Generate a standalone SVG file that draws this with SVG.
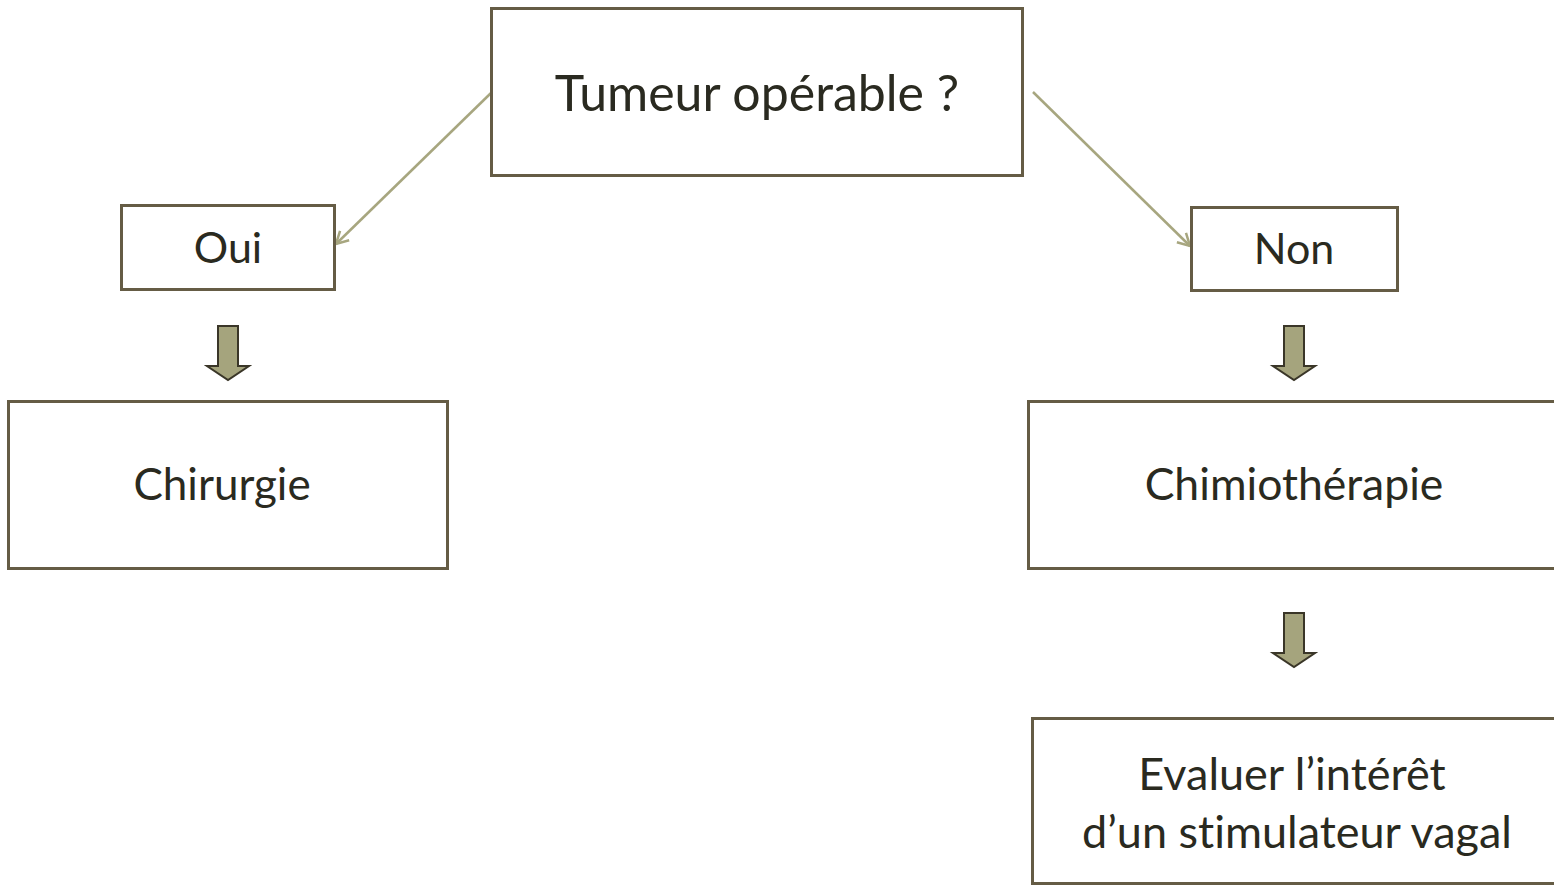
<svg xmlns="http://www.w3.org/2000/svg" width="1554" height="885" viewBox="0 0 1554 885">
<style>
.box{fill:#fff;stroke:#655c45;stroke-width:3}
.t{font-family:Lato,"Open Sans",sans-serif;fill:#2a2a20;text-anchor:middle;font-variant-ligatures:none;font-feature-settings:"liga" 0,"dlig" 0}
.conn{stroke:#a7a67f;stroke-width:2.5;fill:none}
.blk{fill:#a5a47d;stroke:#3a3628;stroke-width:2;stroke-linejoin:miter}
</style>
<defs>
<marker id="ah" markerWidth="16" markerHeight="16" refX="13" refY="8" orient="auto" markerUnits="userSpaceOnUse">
<path d="M1,1.5 L13,8 L1,14.5" fill="none" stroke="#a7a67f" stroke-width="2.5"/>
</marker>
</defs>
<rect width="1554" height="885" fill="#fff"/>
<g id="connectors">
<line class="conn" x1="491" y1="93" x2="336" y2="244" marker-end="url(#ah)"/>
<line class="conn" x1="1033" y1="92" x2="1190" y2="246" marker-end="url(#ah)"/>
<path class="blk" d="M218,326 H238 V366 H249 L228,380 L207,366 H218 Z"/>
<path class="blk" d="M1284,326 H1304 V366 H1315 L1294,380 L1273,366 H1284 Z"/>
<path class="blk" d="M1284,613 H1304 V653 H1315 L1294,667 L1273,653 H1284 Z"/>
</g>
<g id="n-tumeur">
<rect class="box" x="491.5" y="8.5" width="531" height="167"/>
<text class="t" x="757" y="111" font-size="50">Tumeur opérable ?</text>
</g>
<g id="n-oui">
<rect class="box" x="121.5" y="205.5" width="213" height="84"/>
<text class="t" x="228" y="263" font-size="43">Oui</text>
</g>
<g id="n-non">
<rect class="box" x="1191.5" y="207.5" width="206" height="83"/>
<text class="t" x="1294" y="264" font-size="43">Non</text>
</g>
<g id="n-chirurgie">
<rect class="box" x="8.5" y="401.5" width="439" height="167"/>
<text class="t" x="222" y="500" font-size="44">Chirurgie</text>
</g>
<g id="n-chimio">
<rect class="box" x="1028.5" y="401.5" width="540" height="167"/>
<text class="t" x="1294" y="500" font-size="44.5">Chimiothérapie</text>
</g>
<g id="n-evaluer">
<rect class="box" x="1032.5" y="718.5" width="540" height="165"/>
<text class="t" x="1292" y="790" font-size="45">Evaluer l’intérêt</text>
<text class="t" x="1297" y="848" font-size="45">d’un stimulateur vagal</text>
</g>
</svg>
